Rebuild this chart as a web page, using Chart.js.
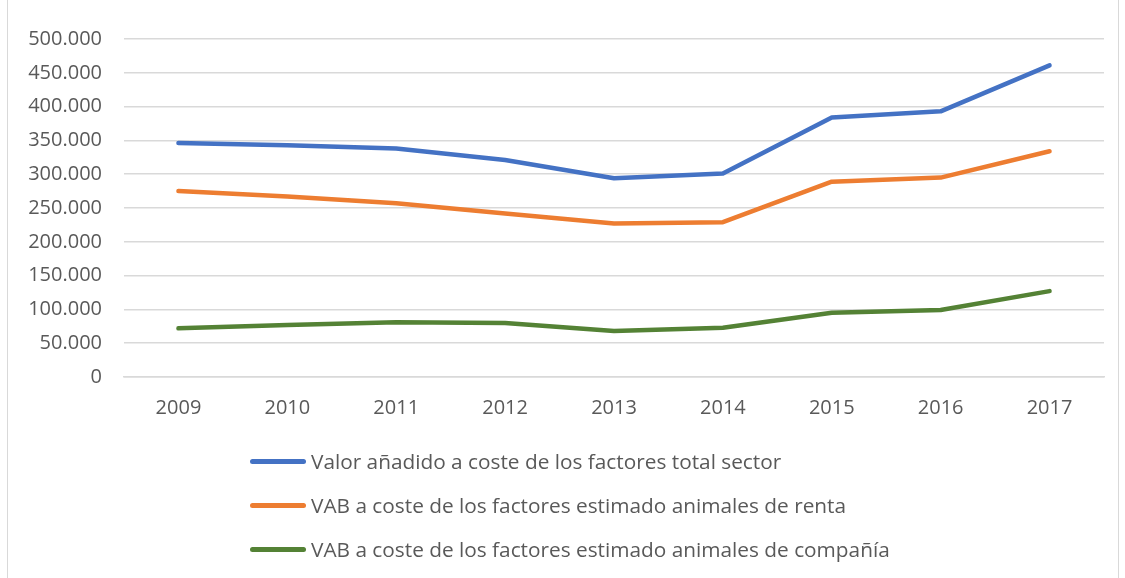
<!DOCTYPE html>
<html>
<head>
<meta charset="utf-8">
<script src="https://cdn.jsdelivr.net/npm/chart.js@4"></script>
<style>
  body { margin: 0; background: #fff; width: 1125px; height: 578px; overflow: hidden; position: relative; }
  #frame { position: absolute; left: 7px; top: -2px; width: 1110px; height: 600px; border: 1px solid #d9d9d9; }
  #chart { position: absolute; left: 0; top: 0; }
  #legend { position: absolute; left: 250px; top: 439px; font-family: "Open Sans", sans-serif; font-size: 20.8px; color: #595959; }
  .item { height: 44px; display: flex; align-items: center; }
  .swatch { width: 56px; height: 5px; border-radius: 3px; margin-right: 5px; }
</style>
</head>
<body>
<div id="frame"></div>
<canvas id="chart" width="1125" height="440"></canvas>
<div id="legend"></div>
<script>
// datos
const years = ['2009', '2010', '2011', '2012', '2013', '2014', '2015', '2016', '2017'];
const totalSector = [346000, 343000, 338000, 321000, 294000, 301000, 384000, 393000, 461000];
const animalesRenta = [275000, 267000, 257000, 242000, 227000, 229000, 289000, 295000, 334000];
const animalesCompania = [72000, 77000, 81000, 80000, 68000, 73000, 95000, 99000, 127000];
const seriesNames = [
    'Valor añadido a coste de los factores total sector',
    'VAB a coste de los factores estimado animales de renta',
    'VAB a coste de los factores estimado animales de compañía'
];
const seriesColors = ['#4472c4', '#ed7d31', '#548235'];

function fmt(v) {
    return String(v).replace(/\B(?=(\d{3})+(?!\d))/g, '.');
}

const datasets = [totalSector, animalesRenta, animalesCompania].map((d, i) => ({
    label: seriesNames[i],
    data: d,
    borderColor: seriesColors[i],
    backgroundColor: seriesColors[i],
    borderWidth: 4.5,
    borderCapStyle: 'round',
    borderJoinStyle: 'round',
    pointRadius: 0,
    tension: 0,
    fill: false
}));

const ctx = document.getElementById('chart').getContext('2d');
const chart = new Chart(ctx, {
    type: 'line',
    data: { labels: years, datasets: datasets },
    options: {
        responsive: false,
        animation: false,
        layout: { padding: { top: 39, right: 21, bottom: 0, left: 0 } },
        plugins: { legend: { display: false }, tooltip: { enabled: false } },
        scales: {
            x: {
                offset: true,
                grid: { display: false, drawTicks: false },
                border: { display: true, color: '#d9d9d9', width: 1.5 },
                ticks: { color: '#595959', padding: 19, font: { family: 'Open Sans', size: 20 } },
                afterFit: s => { s.height = 63; }
            },
            y: {
                min: 0,
                max: 500000,
                grid: { color: '#d9d9d9', lineWidth: 1.5, drawTicks: false },
                border: { display: false },
                ticks: {
                    stepSize: 50000,
                    color: '#595959',
                    padding: 22,
                    font: { family: 'Open Sans', size: 20 },
                    callback: v => fmt(v)
                },
                afterFit: s => { s.width = 124; }
            }
        }
    }
});

// leyenda
const legend = document.getElementById('legend');
chart.data.datasets.forEach(ds => {
    const row = document.createElement('div');
    row.className = 'item';
    const sw = document.createElement('span');
    sw.className = 'swatch';
    sw.style.background = ds.borderColor;
    const txt = document.createElement('span');
    txt.textContent = ds.label;
    row.appendChild(sw);
    row.appendChild(txt);
    legend.appendChild(row);
});
</script>
</body>
</html>
